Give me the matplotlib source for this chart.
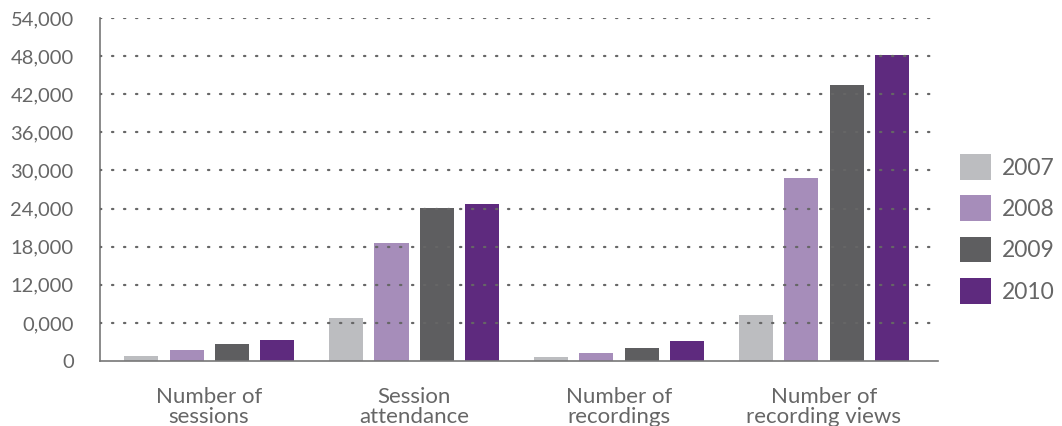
import matplotlib
matplotlib.use('Agg')
import matplotlib.pyplot as plt
import numpy as np

categories = ['Number of\nsessions', 'Session\nattendance', 'Number of\nrecordings', 'Number of\nrecording views']
years = ['2007', '2008', '2009', '2010']
v2007 = [850, 6700, 680, 7300]
v2008 = [1800, 18600, 1300, 28800]
v2009 = [2750, 24100, 2100, 43500]
v2010 = [3250, 24700, 3200, 48200]
yticks = [0, 6000, 12000, 18000, 24000, 30000, 36000, 42000, 48000, 54000]
ytick_labels = ['0', '0,000', '12,000', '18,000', '24,000', '30,000', '36,000', '42,000', '48,000', '54,000']

colors = ['#bcbdc0', '#a68dba', '#5e5e60', '#5e2a7e']
text_color = '#666666'

plt.rcParams['font.family'] = ['Lato', 'DejaVu Sans']

fig = plt.figure(figsize=(10.62, 4.26), dpi=100)
ax = fig.add_axes([0.0942, 0.1526, 0.8890 - 0.0942 - 0.0058, 0.9577 - 0.1526])

x = np.arange(len(categories))
pitch = 0.22
width = 0.166
series = [v2007, v2008, v2009, v2010]
for i, (vals, c, yr) in enumerate(zip(series, colors, years)):
  ax.bar(x + (i - 1.5) * pitch, vals, width, color=c, label=yr, zorder=2)

for t in yticks[1:]:
  ax.axhline(t, color='#666666', linewidth=1.6, linestyle=(0, (0.6, 4.8)),
             dash_capstyle='round', zorder=3)

ax.set_xlim(-0.532, 3.556)
ax.set_ylim(0, 54000)
ax.set_yticks(yticks)
ax.set_yticklabels(ytick_labels, fontsize=14.5)
ax.set_xticks(x)
ax.set_xticklabels(categories, linespacing=0.95, fontsize=16)
ax.tick_params(axis='both', length=0, labelcolor=text_color)
ax.tick_params(axis='y', pad=19)
ax.tick_params(axis='x', pad=19)

for s in ['top', 'right']:
  ax.spines[s].set_visible(False)
for s in ['left', 'bottom']:
  ax.spines[s].set_color('#777777')
  ax.spines[s].set_linewidth(1.2)

leg = ax.legend(loc='center left', bbox_to_anchor=(1.015, 0.385), frameon=False,
                fontsize=16.5, handlelength=1.35, handleheight=1.35,
                labelspacing=0.68, handletextpad=0.5, borderaxespad=0)
for t in leg.get_texts():
  t.set_color(text_color)

fig.savefig('out.png', dpi=100)
